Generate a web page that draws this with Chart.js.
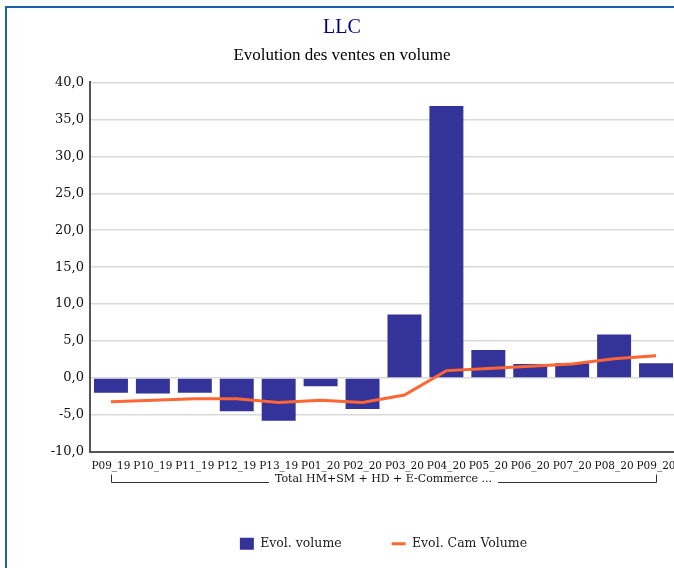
<!DOCTYPE html>
<html>
<head>
<meta charset="utf-8">
<script src="https://cdn.jsdelivr.net/npm/chart.js@4.4.1/dist/chart.umd.min.js"></script>
<style>
  html, body { margin:0; padding:0; background:#fff; overflow:hidden; }
  #frame { position:absolute; left:5px; top:6px; width:683px; height:580px; border:2px solid #1f5fae; background:#fff; }
  #frame canvas { display:block; }
</style>
</head>
<body>
<div id="frame"><canvas id="chartVentes" width="683" height="580"></canvas></div>
<script>
// ── DATA ──────────────────────────────────────────────
var periods = ['P09_19','P10_19','P11_19','P12_19','P13_19','P01_20','P02_20','P03_20','P04_20','P05_20','P06_20','P07_20','P08_20','P09_20'];
var evolVolume = [-2.0, -2.1, -2.0, -4.5, -5.8, -1.1, -4.2, 8.6, 36.8, 3.8, 1.9, 2.0, 5.9, 2.0];
var evolCamVolume = [-3.2, -3.0, -2.8, -2.8, -3.3, -3.0, -3.3, -2.3, 1.0, 1.3, 1.6, 1.9, 2.6, 3.0];
var groupLabel = 'Total HM+SM + HD + E-Commerce ...';

var SERIF = "'DejaVu Serif', serif";

// group label under the period ticks, with its bracket
var groupBracket = {
  id:'groupBracket',
  afterDraw:function(chart){
    var x = chart.scales.x, ctx = chart.ctx;
    var left = x.getPixelForValue(0), right = x.getPixelForValue(periods.length - 1);
    var mid = (x.left + x.right) / 2;
    var yText = x.top + 27;
    ctx.save();
    ctx.font = '11px ' + SERIF;
    ctx.fillStyle = '#111'; ctx.textAlign = 'center'; ctx.textBaseline = 'middle';
    ctx.fillText(groupLabel, mid, yText);
    var tw = ctx.measureText(groupLabel).width;
    var yLine = Math.round(yText + 3) + .5, yTop = yLine - 8;
    ctx.strokeStyle = '#333'; ctx.lineWidth = 1;
    ctx.beginPath();
    ctx.moveTo(Math.round(left) + .5, yTop); ctx.lineTo(Math.round(left) + .5, yLine); ctx.lineTo(mid - tw/2 - 6, yLine);
    ctx.moveTo(mid + tw/2 + 6, yLine); ctx.lineTo(Math.round(right) + .5, yLine); ctx.lineTo(Math.round(right) + .5, yTop);
    ctx.stroke();
    ctx.restore();
  }
};

new Chart(document.getElementById('chartVentes'), {
  data:{
    labels:periods,
    datasets:[
      { type:'line', label:'Evol. Cam Volume', data:evolCamVolume, borderColor:'#ff6633', backgroundColor:'#ff6633',
        borderWidth:3, pointRadius:0, tension:0, pointStyle:'line', order:0 },
      { type:'bar', label:'Evol. volume', data:evolVolume, backgroundColor:'#333399',
        barPercentage:0.81, categoryPercentage:1, pointStyle:'rect', order:1 }
    ]
  },
  options:{
    responsive:false, animation:false,
    layout:{ padding:{ left:0, right:13, top:0, bottom:28 } },
    plugins:{
      title:{ display:true, text:'LLC', color:'#000080', font:{ family:"'Liberation Serif', serif", size:20, weight:'normal' }, padding:{ top:8, bottom:4 } },
      subtitle:{ display:true, text:'Evolution des ventes en volume', color:'#000', font:{ family:"'Liberation Serif', serif", size:17 }, padding:{ top:1, bottom:17 } },
      legend:{
        position:'bottom', fullSize:false, reverse:true,
        labels:{ usePointStyle:true, pointStyleWidth:14, boxHeight:12, padding:50, color:'#222', font:{ family:SERIF, size:12.5 } }
      },
      tooltip:{ enabled:false }
    },
    scales:{
      x:{
        grid:{ display:false, drawTicks:false },
        border:{ display:true, color:'#555', width:2 },
        ticks:{ autoSkip:false, maxRotation:0, minRotation:0, padding:8, color:'#111', font:{ family:SERIF, size:10.5 } },
        afterFit:function(scale){ scale.height += 7; }
      },
      y:{
        min:-10, max:40,
        grid:{ color:'#d9d9d9', lineWidth:1.5, drawTicks:false },
        border:{ display:true, color:'#555', width:2 },
        ticks:{ stepSize:5, padding:6, color:'#111', font:{ family:SERIF, size:13 },
          callback:function(v){ return v.toFixed(1).replace('.', ','); } },
        afterFit:function(scale){ scale.width = 83; }
      }
    }
  },
  plugins:[groupBracket]
});
</script>
</body>
</html>
